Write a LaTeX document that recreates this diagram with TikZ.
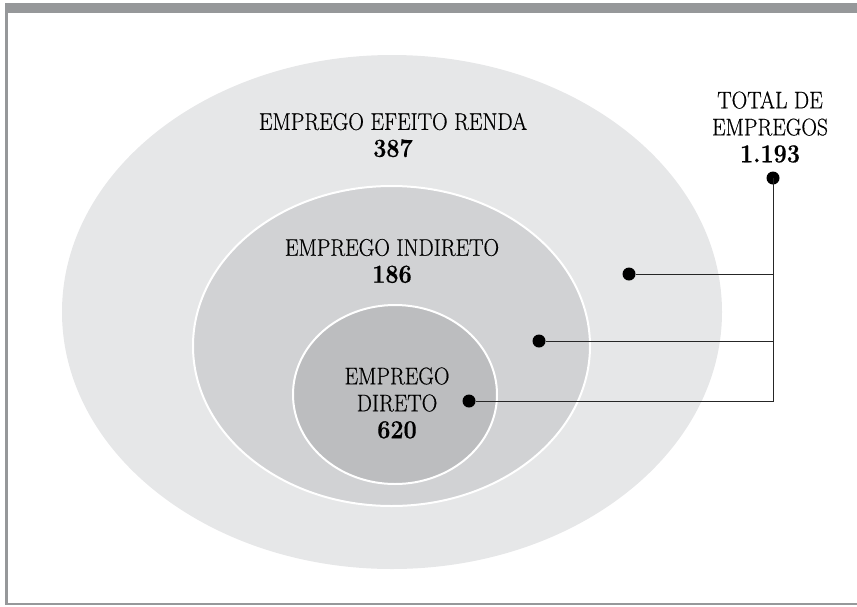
\documentclass[tikz,border=0pt]{standalone}
\usepackage{fontspec}
\setmainfont{Latin Modern Roman}[FakeStretch=0.9,UprightFeatures={FakeBold=0.5},BoldFeatures={FakeBold=0.5}]
\usepackage{tikz}
\usetikzlibrary{positioning}
\definecolor{moldura}{HTML}{96989A}
\definecolor{cinzaA}{HTML}{E6E7E8}
\definecolor{cinzaB}{HTML}{D1D2D4}
\definecolor{cinzaC}{HTML}{BCBDBF}
\newcommand{\valor}[1]{{\fontsize{26}{27}\selectfont\bfseries #1}}

\begin{document}
\begin{tikzpicture}[x=1pt,y=-1pt,
        ponto/.style={circle,fill=black,minimum size=13pt,inner sep=0pt,outer sep=0pt},
        rotulo/.style={align=center,inner sep=0pt,font=\fontsize{24}{27}\selectfont},
        anel/.style={draw=white,line width=2pt},
        liga/.style={draw=black!85,line width=1pt},
    ]
    \useasboundingbox (0,0) rectangle (857,606);
    % moldura
    \fill[moldura] (5,3) rectangle (857,13);
    \fill[moldura] (5,3) rectangle (7.5,604.5);
    \fill[moldura] (5,602.5) rectangle (857,604.5);
    % Efeito renda
    \fill[cinzaA] (392,312) ellipse [x radius=330pt, y radius=257pt];
    % Indireto
    \filldraw[anel,fill=cinzaB] (391.5,346) ellipse [x radius=198.5pt, y radius=160pt];
    % Direto
    \filldraw[anel,fill=cinzaC] (395,394.5) ellipse [x radius=102pt, y radius=89.5pt];
    % textos
    \node[rotulo] (renda) at (393,135) {EMPREGO EFEITO RENDA\\\valor{387}};
    \node[rotulo] (indireto) at (392,261) {EMPREGO INDIRETO\\\valor{186}};
    \node[rotulo] (direto) at (397,403) {EMPREGO\\DIRETO\\\valor{620}};
    \node[rotulo] (total) at (770,127) {TOTAL DE\\EMPREGOS\\\valor{1.193}};
    % pontos
    \node[ponto] (pTotal) at (773,178) {};
    \node[ponto] (pRenda) at (629,274) {};
    \node[ponto] (pIndireto) at (539,341) {};
    \node[ponto] (pDireto) at (469,401) {};
    % ligacoes
    \draw[liga] (pTotal.center) |- (pDireto);
    \draw[liga] (pRenda) -- (pRenda -| pTotal);
    \draw[liga] (pIndireto) -- (pIndireto -| pTotal);
\end{tikzpicture}
\end{document}
